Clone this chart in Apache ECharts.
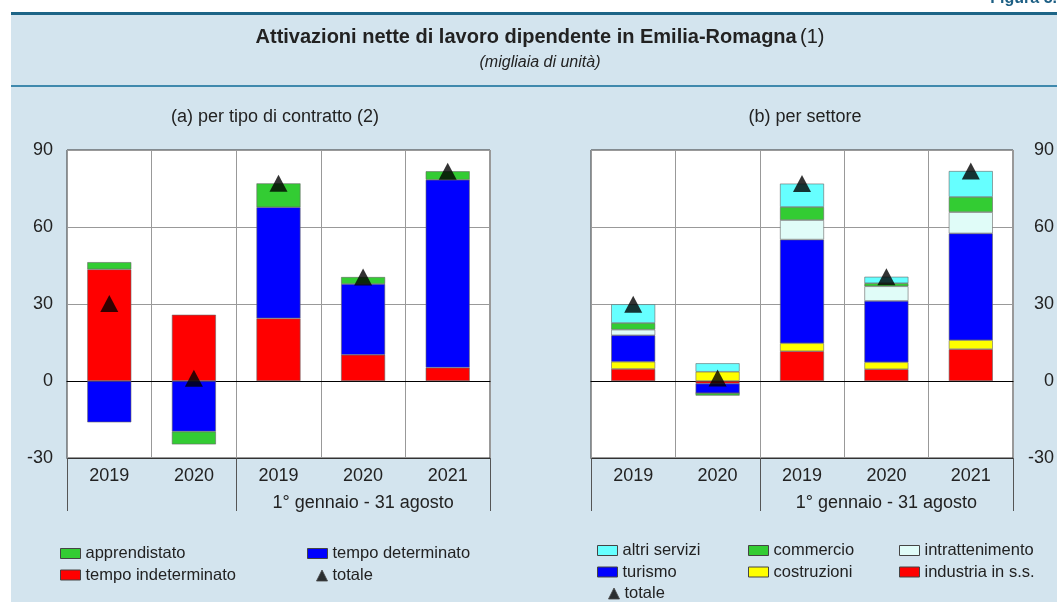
<!DOCTYPE html>
<html>
<head>
<meta charset="utf-8">
<script src="https://cdn.jsdelivr.net/npm/echarts@6/dist/echarts.min.js"></script>
<style>
  html, body { margin: 0; padding: 0; background: #fff; }
  #panel {
    position: absolute; left: 11px; top: 12px; width: 1046px; height: 590px;
    background: #d3e4ee; border-top: 3px solid #1d6587; box-sizing: border-box;
  }
  #rule { position: absolute; left: 11px; top: 85px; width: 1046px; height: 2px; background: #3f89ad; }
  #chart { position: absolute; left: 0; top: 0; width: 1057px; height: 602px; }
</style>
</head>
<body>
<div id="panel"></div>
<div id="rule"></div>
<div id="chart"></div>
<script>
  // categorie: anni interi e periodo 1 gennaio - 31 agosto
  var years = ['2019', '2020', '2019', '2020', '2021'];
  var yTicks = [-30, 0, 30, 60, 90];
  var periodLabel = '1° gennaio - 31 agosto';

  // (a) per tipo di contratto
  var tempoIndeterminato = [43.5, 25.8, 24.4, 10.2, 5.2];
  var tempoDeterminato = [-16.1, -19.7, 43.3, 27.6, 73.2];
  var apprendistato = [2.8, -5.0, 9.3, 2.7, 3.3];
  var totaleA = [30.2, 1.1, 77.0, 40.5, 81.7];

  // (b) per settore
  var industria = [4.7, -1.0, 11.6, 4.6, 12.4];
  var costruzioni = [2.8, 3.6, 3.1, 2.7, 3.5];
  var turismo = [10.3, -3.8, 40.4, 23.9, 41.6];
  var intrattenimento = [2.2, 0, 7.6, 5.7, 8.3];
  var commercio = [2.6, -0.9, 5.1, 1.2, 5.9];
  var altriServizi = [7.3, 3.3, 9.1, 2.5, 10.1];
  var totaleB = [29.9, 1.2, 76.9, 40.6, 81.8];

  var FONT = 'Arial, "Liberation Sans", sans-serif';
  var TXT = '#222';

  var chart = echarts.init(document.getElementById('chart'), null, { renderer: 'canvas' });

  function grid(left, right) {
    return {
      left: left, right: right, top: 150, bottom: 144,
      show: true, backgroundColor: '#fff', borderColor: '#333', borderWidth: 1
    };
  }

  // per ogni pannello: asse categorie, asse separatori, linea dello zero
  function xAxes(g) {
    return [
      {
        type: 'category', gridIndex: g, data: years, position: 'bottom',
        axisLine: { onZero: false, lineStyle: { color: '#333' } },
        axisTick: { show: false },
        axisLabel: { color: TXT, fontSize: 18, fontFamily: FONT, margin: 9 },
        splitLine: { show: true, lineStyle: { color: '#999' } }
      },
      {
        type: 'value', gridIndex: g, min: 0, max: 5, position: 'bottom',
        axisLine: { show: false, onZero: false },
        axisTick: { show: true, customValues: [0, 2, 5], length: 53, lineStyle: { color: '#555' } },
        axisLabel: {
          show: true, customValues: [3.5], margin: 36,
          color: TXT, fontSize: 18, fontFamily: FONT,
          formatter: function () { return periodLabel; }
        },
        splitLine: { show: false }
      },
      {
        type: 'category', gridIndex: g, data: years, position: 'bottom',
        axisLine: { onZero: true, lineStyle: { color: '#000', width: 1.2 } },
        axisTick: { show: false }, axisLabel: { show: false }, splitLine: { show: false }
      }
    ];
  }

  function yAxis(g, pos) {
    return {
      type: 'value', gridIndex: g, position: pos, min: yTicks[0], max: yTicks[yTicks.length - 1], interval: 30,
      axisLine: { show: false }, axisTick: { show: false },
      axisLabel: {
        color: TXT, fontSize: 18, fontFamily: FONT,
        margin: pos === 'left' ? 14 : 41, align: 'right'
      },
      splitLine: { lineStyle: { color: '#999' } }
    };
  }

  function bar(name, data, color, xi, yi, stack) {
    return {
      name: name, type: 'bar', stack: stack, data: data,
      xAxisIndex: xi, yAxisIndex: yi, barWidth: 44,
      itemStyle: { color: color, borderColor: '#666', borderWidth: 0.6 }
    };
  }

  function tot(data, xi, yi) {
    return {
      name: 'totale', type: 'scatter', data: data, xAxisIndex: xi, yAxisIndex: yi,
      symbol: 'triangle', symbolSize: [18, 17], z: 5,
      itemStyle: { color: '#000' }
    };
  }

  var legendText = { color: TXT, fontSize: 16.5, fontFamily: FONT };
  function legend(data, left, top, w, h) {
    return {
      data: data, orient: 'vertical', left: left, top: top, padding: 0,
      itemWidth: w || 20, itemHeight: h || 10, itemGap: 4.5, selectedMode: false,
      icon: 'rect', itemStyle: { borderColor: '#444', borderWidth: 1 },
      textStyle: legendText
    };
  }
  var totIcon = [{ name: 'totale', icon: 'triangle' }];

  chart.setOption({
    animation: false,
    textStyle: { fontFamily: FONT },
    graphic: [
      {
        type: 'text', right: 0, top: -9,
        style: { text: 'Figura 5.', fill: '#1d5f84', font: 'bold 16px ' + FONT }
      },
      {
        type: 'text', x: 540, y: 37,
        style: {
          text: '{b|Attivazioni nette di lavoro dipendente in Emilia-Romagna} {n|(1)}',
          align: 'center', verticalAlign: 'middle',
          rich: {
            b: { fontWeight: 'bold', fontSize: 20, fontFamily: FONT, fill: TXT },
            n: { fontSize: 20, fontFamily: FONT, fill: TXT }
          }
        }
      },
      {
        type: 'text', x: 540, y: 63,
        style: { text: '(migliaia di unità)', align: 'center', verticalAlign: 'middle',
          font: 'italic 16px ' + FONT, fill: TXT }
      },
      {
        type: 'text', x: 275, y: 117,
        style: { text: '(a) per tipo di contratto (2)', align: 'center', verticalAlign: 'middle',
          font: '18px ' + FONT, fill: TXT }
      },
      {
        type: 'text', x: 805, y: 117,
        style: { text: '(b) per settore', align: 'center', verticalAlign: 'middle',
          font: '18px ' + FONT, fill: TXT }
      }
    ],
    grid: [grid(67, 567), grid(591, 44)],
    xAxis: xAxes(0).concat(xAxes(1)),
    yAxis: [yAxis(0, 'left'), yAxis(1, 'right')],
    legend: [
      legend(['apprendistato', 'tempo indeterminato'], 60, 545),
      legend(['tempo determinato'], 307, 545),
      legend(totIcon, 316, 567, 11, 11),
      legend(['altri servizi', 'turismo'], 597, 542),
      legend(totIcon, 608, 585, 11, 11),
      legend(['commercio', 'costruzioni'], 748, 542),
      legend(['intrattenimento', 'industria in s.s.'], 899, 542)
    ],
    series: [
      bar('tempo indeterminato', tempoIndeterminato, '#ff0000', 0, 0, 'a'),
      bar('tempo determinato', tempoDeterminato, '#0000ff', 0, 0, 'a'),
      bar('apprendistato', apprendistato, '#33cc33', 0, 0, 'a'),
      tot(totaleA, 0, 0),
      bar('industria in s.s.', industria, '#ff0000', 3, 1, 'b'),
      bar('costruzioni', costruzioni, '#ffff00', 3, 1, 'b'),
      bar('turismo', turismo, '#0000ff', 3, 1, 'b'),
      bar('intrattenimento', intrattenimento, '#e0fcf8', 3, 1, 'b'),
      bar('commercio', commercio, '#33cc33', 3, 1, 'b'),
      bar('altri servizi', altriServizi, '#66ffff', 3, 1, 'b'),
      tot(totaleB, 3, 1)
    ]
  });
</script>
</body>
</html>
